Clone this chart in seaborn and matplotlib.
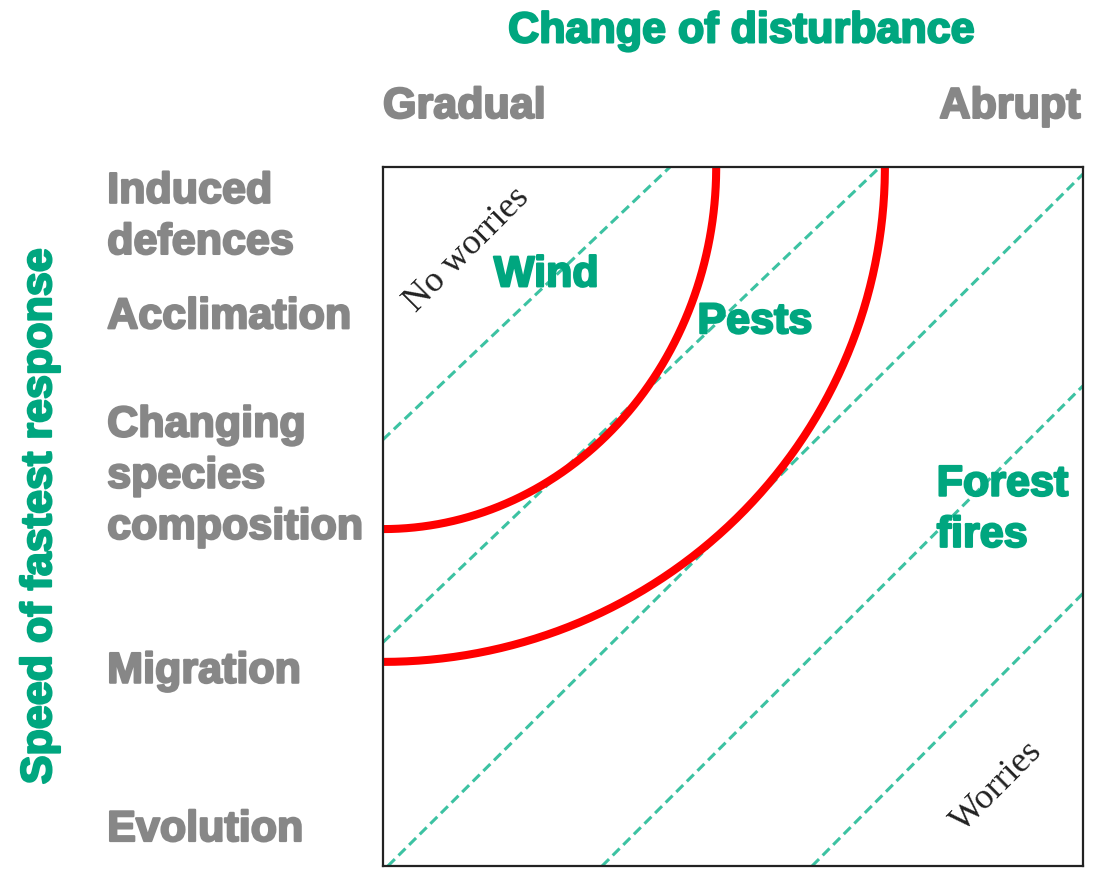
import numpy as np
import pandas as pd
import matplotlib
matplotlib.use("Agg")
import matplotlib.pyplot as plt
import matplotlib.patheffects as pe
import seaborn as sns

# ---- data (axes coords 0..1) ----
# dashed diagonal guide lines: start / end points
diag_x0 = [0.00, 0.00, 0.007, 0.313, 0.613]
diag_y0 = [0.61, 0.32, 0.00, 0.00, 0.00]
diag_x1 = [0.41, 0.71, 1.00, 1.00, 1.00]
diag_y1 = [1.00, 1.00, 0.99, 0.687, 0.39]

# red threshold arcs: where they meet the left edge (y) and top edge (x)
arc_left_y = [0.482, 0.292]
arc_top_x = [0.476, 0.717]

# response-speed labels (y axis) and their positions
response_labels = ["Induced\ndefences", "Acclimation",
                   "Changing\nspecies\ncomposition", "Migration", "Evolution"]
response_y = [0.928, 0.785, 0.557, 0.278, 0.0515]

disturbance_labels = ["Gradual", "Abrupt"]
hazard_labels = ["Wind", "Pests", "Forest\nfires"]

TEAL = "#00a67f"
DASH = "#3cc2a2"
GREY = "#878787"
RED = "#ff0000"

sns.set_theme(style="white")
plt.rcParams["font.family"] = ["Liberation Sans", "DejaVu Sans"]

fig = plt.figure(figsize=(11.01, 8.69), dpi=100)
ax = fig.add_axes([383 / 1101, 3 / 869, 700 / 1101, 699 / 869])

# dashed diagonals
for x0, y0, x1, y1 in zip(diag_x0, diag_y0, diag_x1, diag_y1):
    sns.lineplot(x=[x0, x1], y=[y0, y1], sort=False, ax=ax, color=DASH,
                 linewidth=2.2, linestyle=(0, (3.2, 1.7)), estimator=None)

# red arcs (quarter ellipses centred on the top-left corner)
t = np.linspace(0, np.pi / 2, 200)
for ly, tx in zip(arc_left_y, arc_top_x):
    b = 1 - ly
    df = pd.DataFrame({"x": tx * np.sin(t), "y": 1 - b * np.cos(t)})
    sns.lineplot(data=df, x="x", y="y", sort=False, ax=ax, color=RED,
                 linewidth=5.8, estimator=None, solid_capstyle="butt")

ax.set_xlim(0, 1)
ax.set_ylim(0, 1)
ax.set_xticks([])
ax.set_yticks([])
ax.set_xlabel("")
ax.set_ylabel("")
for s in ax.spines.values():
    s.set_visible(True)
    s.set_color("#222222")
    s.set_linewidth(1.6)


def heavy(color):
    return dict(fontsize=31, fontweight="bold", color=color,
                path_effects=[pe.withStroke(linewidth=1.6, foreground=color)])


# response labels
for lab, y in zip(response_labels, response_y):
    ax.text(-0.394, y, lab, ha="left", va="center",
            linespacing=1.36, clip_on=False, **heavy(GREY))

# column headings
ax.text(0.0, 1.086, disturbance_labels[0], ha="left", va="center", **heavy(GREY))
ax.text(0.996, 1.086, disturbance_labels[1], ha="right", va="center", **heavy(GREY))
ax.text(0.511, 1.194, "Change of disturbance", ha="center", va="center",
        **heavy(TEAL))
ax.text(-0.49, 0.4993, "Speed of fastest response", ha="center",
        va="center", rotation=90, **heavy(TEAL))

# hazards
ax.text(0.233, 0.845, hazard_labels[0], ha="center", va="center", **heavy(TEAL))
ax.text(0.531, 0.778, hazard_labels[1], ha="center", va="center", **heavy(TEAL))
ax.text(0.791, 0.509, hazard_labels[2], ha="left", va="center",
        linespacing=1.36, **heavy(TEAL))

serif = ["Liberation Serif", "DejaVu Serif"]
ax.text(0.12, 0.881, "No worries", family=serif, fontsize=26, color="#222222",
        rotation=45, ha="center", va="center", rotation_mode="anchor")
ax.text(0.877, 0.113, "Worries", family=serif, fontsize=26, color="#222222",
        rotation=45, ha="center", va="center", rotation_mode="anchor")

fig.savefig("out.png", dpi=100)
